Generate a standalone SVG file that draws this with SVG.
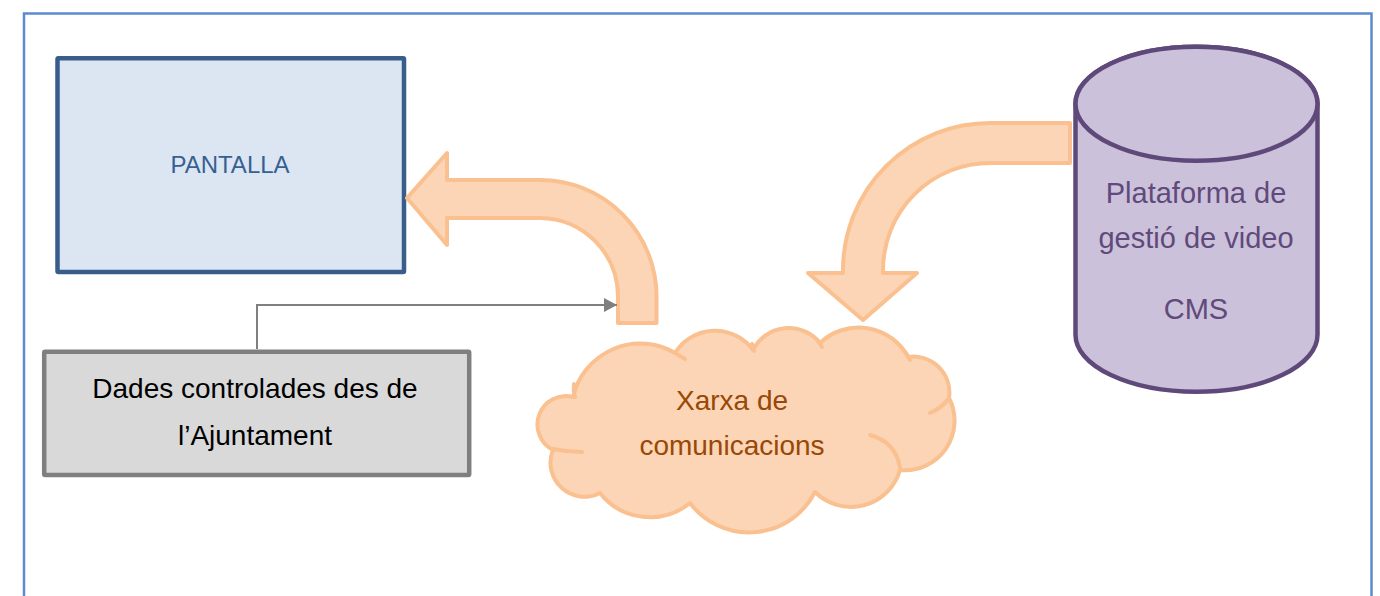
<svg xmlns="http://www.w3.org/2000/svg" width="1380" height="596" viewBox="0 0 1380 596">
<style>
.lbl{font-family:"Liberation Sans",Arial,sans-serif;text-anchor:middle}
.orange{fill:#fbd5b5;stroke:#fac08f;stroke-width:4;stroke-linejoin:round}
.inner{fill:none;stroke:#fac08f;stroke-width:4;stroke-linecap:round}
</style>
<defs>
<marker id="arr" viewBox="0 0 13 14" refX="13" refY="7" markerWidth="13" markerHeight="14" markerUnits="userSpaceOnUse" orient="auto">
<path d="M0,0 L13,7 L0,14 Z" fill="#7f7f7f"/>
</marker>
</defs>
<rect x="0" y="0" width="1380" height="596" fill="#ffffff"/>
<rect id="frame" x="24" y="13.5" width="1347.5" height="620" fill="none" stroke="#5b8bd0" stroke-width="2.5"/>

<g id="pantalla">
<rect x="57.5" y="58.3" width="346.5" height="213.7" rx="1" fill="#dce6f2" stroke="#385d8a" stroke-width="4.5"/>
<text class="lbl" x="230" y="173" font-size="24" fill="#376092">PANTALLA</text>
</g>

<g id="dades">
<rect x="44.2" y="351.7" width="425" height="123.3" rx="1" fill="#d9d9d9" stroke="#7f7f7f" stroke-width="4.5"/>
<text class="lbl" x="255" y="398" font-size="28" fill="#000000">Dades controlades des de</text>
<text class="lbl" x="255" y="445" font-size="28" fill="#000000">l’Ajuntament</text>
</g>

<g id="xarxa">
<path class="orange" d="M 573,397 A 69 69 0 0 1 675,353 A 47 47 0 0 1 753,350 A 40 40 0 0 1 820,343 A 56 56 0 0 1 908,357 A 36 36 0 0 1 949,398 A 49.5 49.5 0 0 1 900,470 A 51 51 0 0 1 815,492 A 74 74 0 0 1 690,503 A 63.5 63.5 0 0 1 600,493 A 34 34 0 0 1 553,450 A 28.5 28.5 0 0 1 573,397 Z"/>
<path class="inner" d="M 870,435 Q 896,442 900,468"/>
<path class="inner" d="M 949,398 Q 942,408 930,413"/>
<path class="inner" d="M 553,449 Q 568,452 582,452"/>
<path class="inner" d="M 675,353 L 685,359"/>
<path class="inner" d="M 752,344 L 754,351"/>
<path class="inner" d="M 818,341 L 822,347"/>
<path class="inner" d="M 906,353 L 910,360"/>
<path class="inner" d="M 574,384 Q 573,391 575,397"/>
<text class="lbl" x="732" y="410" font-size="28" fill="#984807">Xarxa de</text>
<text class="lbl" x="732" y="455" font-size="28" fill="#984807">comunicacions</text>
</g>

<g id="plataforma">
<path d="M 1075.5,103.75 A 121 57 0 0 1 1317.5,103.75 L 1317.5,334.7 A 121 57 0 0 1 1075.5,334.7 Z" fill="#ccc1da" stroke="#5f497a" stroke-width="4.5"/>
<ellipse cx="1196.5" cy="103.75" rx="121" ry="57" fill="#ccc1da" stroke="#5f497a" stroke-width="4.5"/>
<text class="lbl" x="1196" y="203" font-size="29" fill="#604a7b">Plataforma de</text>
<text class="lbl" x="1196" y="248" font-size="29" fill="#604a7b">gestió de video</text>
<text class="lbl" x="1196" y="319" font-size="29" fill="#604a7b">CMS</text>
</g>

<g id="connectors">
<path class="orange" d="M 407,198 L 447,153 L 447,180 L 540,180 A 116.5 116.5 0 0 1 656.5,296.5 L 656.5,323 L 618,323 L 618,296.5 A 78.5 78.5 0 0 0 540,218 L 447,218 L 447,245 Z"/>
<path class="orange" d="M 1070,123 L 990,123 A 147 147 0 0 0 843,270 L 843,273 L 808,273 L 863,320 L 917,273 L 883,273 L 883,270 A 107 107 0 0 1 990,163 L 1070,163 Z"/>
<path d="M 257,349 L 257,305 L 617,305" fill="none" stroke="#7f7f7f" stroke-width="2" marker-end="url(#arr)"/>
</g>
</svg>
